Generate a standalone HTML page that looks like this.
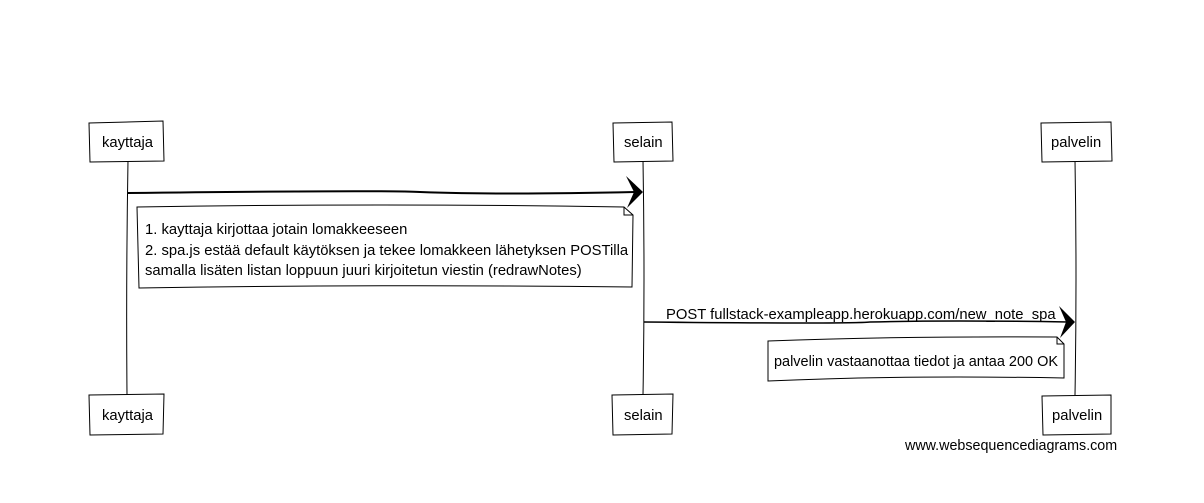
<!DOCTYPE html>
<html><head><meta charset="utf-8"><style>
html,body{margin:0;padding:0;background:#fff;}
svg{display:block;}
text{font-family:"Liberation Sans",sans-serif;font-size:14.8px;fill:#000;}
</style></head><body>
<svg width="1204" height="503" viewBox="0 0 1204 503" xmlns="http://www.w3.org/2000/svg">
<g fill="none" stroke="#000" stroke-width="1">
<path d="M128 160 Q126 280 127 395"/>
<path d="M643 160 Q645 280 643 395"/>
<path d="M1075 160 Q1077 280 1075 395"/>
<path d="M89 123 L163 121 L164 161 L90 162 Z" fill="#fff"/>
<path d="M613 123 L672 122 L673 161 L614 162 Z" fill="#fff"/>
<path d="M1041 123 L1111 122 L1112 161 L1042 162 Z" fill="#fff"/>
<path d="M89 395 L164 394 L163 434 L90 435 Z" fill="#fff"/>
<path d="M612 395 L673 394 L672 434 L613 435 Z" fill="#fff"/>
<path d="M1042 396 L1111 395 L1111 434 L1043 435 Z" fill="#fff"/>
<path d="M137 207 Q380 203 624 207 L633 215 L632 287 Q380 284 139 288 Z" fill="#fff"/>
<path d="M624 207 L624 215 L633 215"/>
<path d="M768 341 Q900 336 1057 337 L1064 344 L1064 378 Q900 375 768 381 Z" fill="#fff"/>
<path d="M1057 337 L1057 344 L1064 344"/>
<path d="M128 193 Q380 190 420 192 Q500 195 635 192" stroke-width="2"/>
<path d="M644 322 Q850 324 870 322 Q950 320 1068 322" stroke-width="1.5"/>
</g>
<g fill="#000">
<path d="M626 176 L643 192 L627 208 L634 192 Z"/>
<path d="M1059 306 L1075 322 L1060 338 L1066 322 Z"/>
</g>
<text x="102" y="147">kayttaja</text>
<text x="624" y="147">selain</text>
<text x="1051" y="147">palvelin</text>
<text x="102" y="420">kayttaja</text>
<text x="624" y="420">selain</text>
<text x="1052" y="420">palvelin</text>
<text x="145" y="234">1. kayttaja kirjottaa jotain lomakkeeseen</text>
<text x="145" y="255">2. spa.js estää default käytöksen ja tekee lomakkeen lähetyksen POSTilla</text>
<text x="145" y="275">samalla lisäten listan loppuun juuri kirjoitetun viestin (redrawNotes)</text>
<text x="666" y="319">POST fullstack-exampleapp.herokuapp.com/new_note_spa</text>
<text x="774" y="366" textLength="284" lengthAdjust="spacingAndGlyphs">palvelin vastaanottaa tiedot ja antaa 200 OK</text>
<text x="905" y="450" style="font-size:14.3px">www.websequencediagrams.com</text>
</svg>
</body></html>
